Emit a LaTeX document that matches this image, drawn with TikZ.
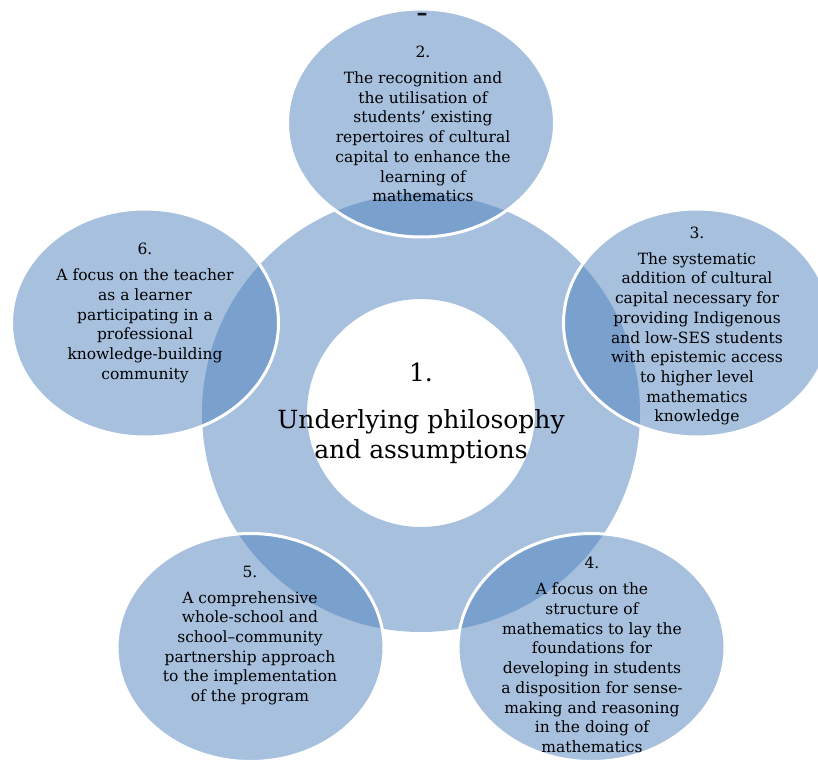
\documentclass[tikz,border=0pt]{standalone}
\usepackage{fontspec}
\setmainfont{DejaVu Serif}
\usetikzlibrary{shapes.geometric}
\definecolor{ringblue}{HTML}{A7C0DE}
\definecolor{accent}{HTML}{4F81BD}
\tikzset{
  blob/.style={ellipse, draw=white, line width=3pt, fill=accent, fill opacity=0.5,
    draw opacity=1, minimum width=267pt, minimum height=228pt, inner sep=0pt},
  bodytext/.style={align=center, text=black, inner sep=0pt,
    font=\fontsize{15.5}{19.7}\selectfont},
  centertext/.style={align=center, text=black, inner sep=0pt,
    font=\fontsize{25}{30}\selectfont}
}
\begin{document}
\begin{tikzpicture}[x=1pt,y=-1pt]
\useasboundingbox (0,0) rectangle (818,762);
\clip (0,0) rectangle (818,762);
% ring
\fill[ringblue, even odd rule] (421,413) circle[radius=219pt] (421,413) circle[radius=114pt];
% ellipses
\node[blob] (e2) at (421,123) {};
\node[blob] (e3) at (697,323) {};
\node[blob] (e4) at (591.5,647.5) {};
\node[blob] (e5) at (250.5,647.5) {};
\node[blob] (e6) at (145,323) {};
% texts
\node[inner sep=0pt, text=black!85!accent, font=\fontsize{22}{24}\selectfont\bfseries] (dash) at (422,17) {–};
\node[bodytext] (t2) at (423,124) {2.\\[6.3pt]The recognition and\\the utilisation of\\students’ existing\\repertoires of cultural\\capital to enhance the\\learning of\\mathematics};
\node[bodytext] (t3) at (697,326) {3.\\[6.3pt]The systematic\\addition of cultural\\capital necessary for\\providing Indigenous\\and low-SES students\\with epistemic access\\to higher level\\mathematics\\knowledge};
\node[bodytext] (t4) at (592,655) {4.\\[6.3pt]A focus on the\\structure of\\mathematics to lay the\\foundations for\\developing in students\\a disposition for sense-\\making and reasoning\\in the doing of\\mathematics};
\node[bodytext] (t5) at (250,635.5) {5.\\[6.3pt]A comprehensive\\whole-school and\\school–community\\partnership approach\\to the implementation\\of the program};
\node[bodytext] (t6) at (145,313) {6.\\[6.3pt]A focus on the teacher\\as a learner\\participating in a\\professional\\knowledge-building\\community};
\node[centertext] (t1) at (421,413.5) {1.\\[17pt]Underlying philosophy\\and assumptions};
\end{tikzpicture}
\end{document}
